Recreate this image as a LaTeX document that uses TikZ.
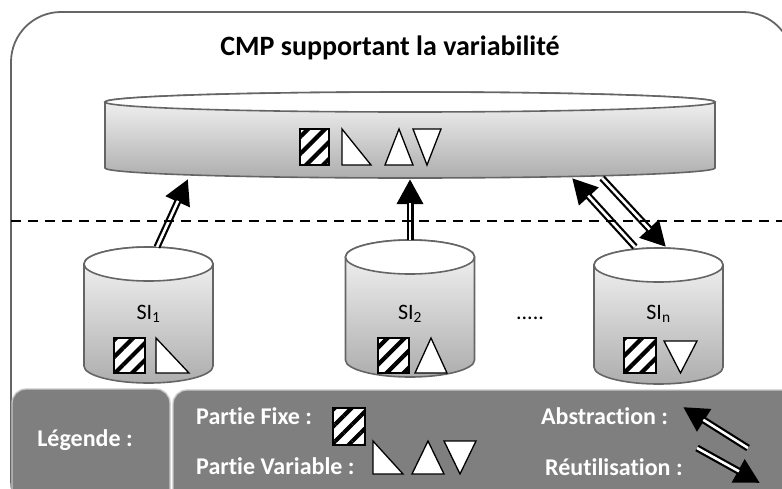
\documentclass[tikz,border=0pt]{standalone}
\usepackage{fontspec}
\setmainfont{Carlito}[Ligatures=NoCommon]
\usetikzlibrary{arrows.meta,patterns.meta}
\definecolor{framegray}{HTML}{656565}
\definecolor{legendgray}{HTML}{7F7F7F}
\definecolor{legendline}{HTML}{C8C8C8}
\tikzset{
  cylline/.style={draw=framegray, line width=1.6pt},
  cylbody/.style={cylline, top color=gray!6, bottom color=gray!64},
  hatchbox/.style={preaction={fill=white}, pattern={Lines[angle=45,distance=12pt,line width=4.2pt]}, pattern color=black, draw=black, line width=1.3pt},
  tribox/.style={draw=black, fill=white, line width=1.3pt},
  dblarrow/.style={draw=black, line width=7pt, -{Triangle[length=25pt,width=25pt]},
    postaction={draw=white, line width=2.6pt, shorten >=24pt, -}},
  legendbox/.style={draw=legendline, line width=1.3pt, fill=legendgray, rounded corners=14pt},
  legendtxt/.style={text=white, font=\bfseries\fontsize{24}{26}\selectfont, inner sep=0pt},
  silabel/.style={font=\fontsize{22}{24}\selectfont, inner sep=0pt, anchor=base},
}
% cylinder: x centre, y top, y bottom, x radius, y radius
\newcommand{\drawcyl}[5]{%
  \path[cylbody] (#1-#4,#2) -- (#1-#4,#3) arc[start angle=180,end angle=0,x radius=#4,y radius=#5]
    -- (#1+#4,#2) arc[start angle=0,end angle=-180,x radius=#4,y radius=#5] -- cycle;
  \draw[cylline, fill=white] (#1,#2) ellipse[x radius=#4, y radius=#5];
}
\begin{document}
\begin{tikzpicture}[x=1pt,y=-1pt]
 \useasboundingbox (0,0) rectangle (782,488);
 \clip (0,0) rectangle (782,488);
 \draw[framegray, line width=1.8pt, rounded corners=50pt] (11,12) rectangle (793,530);
 \node[font=\bfseries\fontsize{28}{30}\selectfont] (title) at (390,48) {CMP supportant la variabilité};

 % le CMP
 \drawcyl{410}{102}{168}{305}{10}
 \draw[hatchbox] (300,129) rectangle (329,165);
 \draw[tribox] (342,129) -- (342,165) -- (371,165) -- cycle;
 \draw[tribox] (385,165) -- (399,129) -- (413,165) -- cycle;
 \draw[tribox] (413,129) -- (441,129) -- (427,165) -- cycle;

 % les SI
 \drawcyl{148.5}{264}{366}{64.5}{17}
 \drawcyl{410}{257}{360}{64.5}{17}
 \drawcyl{658.5}{265}{367}{64.5}{17}
 \node[silabel] (si1) at (148.5,319) {SI\textsubscript{1}};
 \node[silabel] (si2) at (410,319) {SI\textsubscript{2}};
 \node[silabel] (sin) at (658.5,319) {SI\textsubscript{n}};
 \node[silabel] (dots) at (530,319) {.....};
 \draw[hatchbox] (114,338) rectangle (145,373);
 \draw[tribox] (156,338) -- (156,373) -- (189,373) -- cycle;
 \draw[hatchbox] (378,338) rectangle (409,373);
 \draw[tribox] (415,373) -- (431,338) -- (447,373) -- cycle;
 \draw[hatchbox] (624,338) rectangle (656,373);
 \draw[tribox] (664,341) -- (697,341) -- (680.5,373) -- cycle;

 % fleches
 \coordinate (si1top) at (157,247);
 \coordinate (si2top) at (410,240);
 \coordinate (sintopa) at (635,247);
 \coordinate (sintopb) at (666,247);
 \coordinate (cmpa) at (188,179);
 \coordinate (cmpb) at (410,179);
 \coordinate (cmpc) at (572,178);
 \coordinate (cmpd) at (602,178);
 \draw[dblarrow] (si1top) -- (cmpa);
 \draw[dblarrow] (si2top) -- (cmpb);
 \draw[dblarrow] (sintopa) -- (cmpc);
 \draw[dblarrow] (cmpd) -- (sintopb);
 \draw[line width=1.8pt, dash pattern=on 10pt off 7pt] (11,221) -- (782,221);

 % legende
 \draw[legendbox] (12,389) rectangle (170,520);
 \draw[legendbox] (173,390) rectangle (820,520);
 \node[legendtxt] (leg) at (85,440) {Légende :};
 \node[legendtxt, anchor=base west] (fixe) at (196,424) {Partie Fixe :};
 \node[legendtxt, anchor=base west] (var) at (196,474) {Partie Variable :};
 \node[legendtxt, anchor=base west] (abs) at (541,424) {Abstraction :};
 \node[legendtxt, anchor=base west] (reu) at (545,475) {Réutilisation :};
 \draw[hatchbox] (333,408) rectangle (365,445);
 \draw[tribox] (373,441) -- (373,474) -- (403,474) -- cycle;
 \draw[tribox] (412,474) -- (428,441) -- (444,474) -- cycle;
 \draw[tribox] (444,441) -- (476,441) -- (460,474) -- cycle;
 \coordinate (absa) at (748,448);
 \coordinate (absb) at (683,407);
 \coordinate (reua) at (697,448);
 \coordinate (reub) at (760,483);
 \draw[dblarrow] (absa) -- (absb);
 \draw[dblarrow] (reua) -- (reub);
\end{tikzpicture}
\end{document}
